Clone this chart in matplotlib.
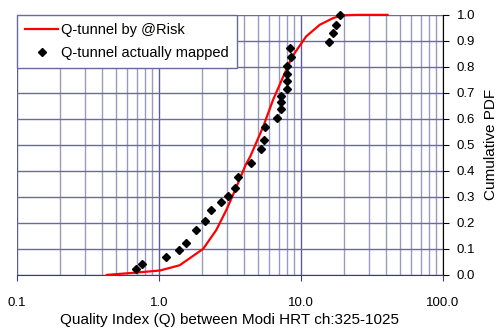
import numpy as np
import matplotlib
matplotlib.use("Agg")
import matplotlib.pyplot as plt
from matplotlib.ticker import FixedLocator, FormatStrFormatter, NullFormatter

plt.rcParams['font.family'] = ['Liberation Sans', 'DejaVu Sans']

# fitted curve (@Risk)
risk_q = [0.43, 0.70, 1.02, 1.40, 2.05, 2.54, 2.99, 3.45, 4.10, 4.40, 5.43,
          6.37, 7.52, 8.71, 10.9, 13.6, 16.8, 19.3, 25.0, 40.8]
risk_p = [0.0, 0.009, 0.017, 0.037, 0.10, 0.173, 0.25, 0.327, 0.425, 0.455, 0.570,
          0.673, 0.763, 0.84, 0.917, 0.962, 0.987, 0.998, 1.0, 1.0]

# mapped values
mapped_q = [0.69, 0.76, 1.13, 1.39, 1.55, 1.82, 2.12, 2.32, 2.75, 3.06,
            3.45, 3.60, 4.47, 5.20, 5.49, 5.55, 6.74, 7.27, 7.27, 7.27,
            7.93, 7.93, 7.93, 7.93, 8.46, 8.37, 15.7, 16.9, 17.8, 19.0]
mapped_p = [0.022, 0.042, 0.070, 0.094, 0.122, 0.172, 0.208, 0.250, 0.281, 0.305,
            0.333, 0.376, 0.431, 0.485, 0.517, 0.569, 0.603, 0.638, 0.664, 0.688,
            0.715, 0.744, 0.773, 0.804, 0.837, 0.874, 0.896, 0.932, 0.961, 1.0]

fig = plt.figure(figsize=(4.97, 3.30), dpi=100)
ax = fig.add_axes([0.034, 0.167, 0.857, 0.788])

ax.set_xscale('log')
ax.set_xlim(0.1, 100)
ax.set_ylim(0, 1)

major_x = [0.1, 1, 10, 100]
minor_x = [m * d for d in [0.1, 1, 10] for m in range(2, 10)]
ax.xaxis.set_major_locator(FixedLocator(major_x))
ax.xaxis.set_minor_locator(FixedLocator(minor_x))
ax.xaxis.set_major_formatter(FormatStrFormatter('%.1f'))
ax.xaxis.set_minor_formatter(NullFormatter())
ax.set_yticks(np.arange(0, 1.01, 0.1))
ax.yaxis.set_major_formatter(FormatStrFormatter('%.1f'))

ax.grid(True, which='minor', axis='x', color='#9a9ac0', lw=1.0)
ax.grid(True, which='major', axis='x', color='#5c5c98', lw=1.0)
ax.grid(True, which='major', axis='y', color='#6a6aa4', lw=1.0)
ax.set_axisbelow(True)

ax.yaxis.tick_right()
ax.yaxis.set_label_position('right')
ax.tick_params(axis='y', direction='out', length=4, colors='black', labelsize=9.5, pad=6)
ax.tick_params(axis='x', which='major', direction='out', length=4, color='#3a3a80',
               labelsize=9.5, pad=12)
ax.tick_params(axis='x', which='minor', length=0)

for s in ['top', 'left']:
    ax.spines[s].set_visible(False)
ax.spines['right'].set_color('black')
ax.spines['bottom'].set_color('#3a3a80')

ax.plot(risk_q, risk_p, color='#ff0000', lw=1.6, label='Q-tunnel by @Risk',
        zorder=3, clip_on=False)
ax.plot(mapped_q, mapped_p, ls='none', marker='D', ms=4.5, color='black',
        label='Q-tunnel actually mapped', zorder=4, clip_on=False)

ax.set_xlabel('Quality Index (Q) between Modi HRT ch:325-1025', fontsize=11, labelpad=3)
ax.set_ylabel('Cumulative PDF', fontsize=11, labelpad=6)

leg = ax.legend(loc='upper left', bbox_to_anchor=(0.0, 1.0), fontsize=10.5,
                fancybox=False, framealpha=1, edgecolor='#6a6a9a',
                borderaxespad=0.0, handlelength=2.3, borderpad=0.55,
                labelspacing=0.65, handletextpad=0.2)
leg.get_frame().set_linewidth(1.0)

fig.savefig('out.png', dpi=100)
